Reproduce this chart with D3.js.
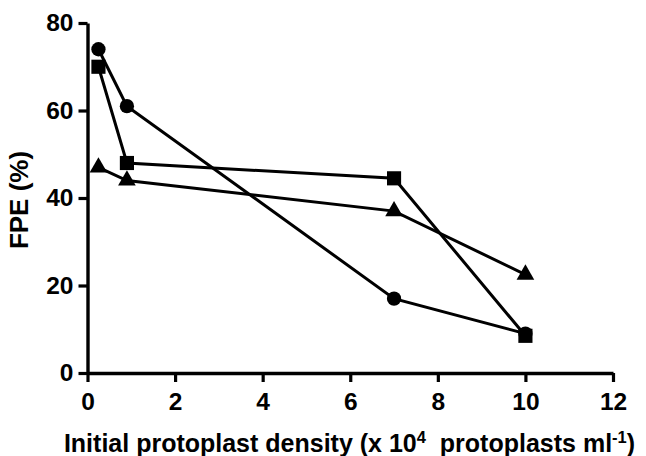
<!DOCTYPE html>
<html>
<head>
<meta charset="utf-8">
<script src="https://cdn.jsdelivr.net/npm/d3@7"></script>
<style>
  body { margin: 0; background: #fff; }
  text { font-family: "Liberation Sans", Arial, sans-serif; font-weight: bold; fill: #000; }
</style>
</head>
<body>
<script>
// densities (x 10^4 protoplasts/ml)
const density = [0.25, 0.9, 7, 10];
// FPE values per series
const circleSeries = [74, 61, 17, 9];
const squareSeries = [70, 48, 44.5, 8.5];
const triangleSeries = [47, 44, 37, 22.5];
const xTicks = [0, 2, 4, 6, 8, 10, 12];
const yTicks = [0, 20, 40, 60, 80];

const W = 646, H = 456;
const margin = { top: 23, right: 33, bottom: 83, left: 87.5 };
const width = W - margin.left - margin.right,
  height = H - margin.top - margin.bottom;

const svg = d3.select("body").append("svg")
  .attr("width", W).attr("height", H);
const g = svg.append("g")
  .attr("transform", "translate(" + margin.left + "," + margin.top + ")");

const x = d3.scaleLinear().domain([0, 12]).range([0, width]);
const y = d3.scaleLinear().domain([0, 80]).range([height, 0]);

// axes
const xAxis = g.append("g")
  .attr("transform", "translate(0," + height + ")")
  .call(d3.axisBottom(x).tickValues(xTicks).tickSize(9).tickSizeOuter(0).tickPadding(11));
const yAxis = g.append("g")
  .call(d3.axisLeft(y).tickValues(yTicks).tickSize(9).tickSizeOuter(0).tickPadding(5));

[xAxis, yAxis].forEach(a => {
  a.select(".domain").attr("stroke", "#000").attr("stroke-width", 3.4);
  a.selectAll(".tick line").attr("stroke", "#000").attr("stroke-width", 3.2);
  a.selectAll(".tick text").style("font-size", "24.5px").style("font-family", "'Liberation Sans', Arial, sans-serif").style("font-weight", "bold");
});

// lines
const line = d3.line().x((d, i) => x(density[i])).y(d => y(d));
const series = [
  { vals: circleSeries, sym: d3.symbolCircle, size: 160 },
  { vals: squareSeries, sym: d3.symbolSquare, size: 200 },
  { vals: triangleSeries, sym: d3.symbolTriangle, size: 135 }
];

series.forEach(s => {
  g.append("path").datum(s.vals)
    .attr("fill", "none").attr("stroke", "#000").attr("stroke-width", 3)
    .attr("d", line);
});
series.forEach(s => {
  g.selectAll(null).data(s.vals).enter().append("path")
    .attr("transform", (d, i) => "translate(" + x(density[i]) + "," + y(d) + ")")
    .attr("d", d3.symbol().type(s.sym).size(s.size))
    .attr("fill", "#000");
});

// axis titles
svg.append("text")
  .attr("transform", "translate(28,200) rotate(-90)")
  .attr("text-anchor", "middle")
  .style("font-size", "26px")
  .text("FPE (%)");

const xt = svg.append("text")
  .attr("x", 349.5).attr("y", 452)
  .attr("text-anchor", "middle")
  .style("font-size", "25px");
xt.append("tspan").text("Initial protoplast density (x 10");
xt.append("tspan").attr("dy", -9).style("font-size", "16.5px").text("4");
xt.append("tspan").attr("dy", 9).text("\u00a0\u00a0protoplasts ml");
xt.append("tspan").attr("dy", -9).style("font-size", "16.5px").text("-1");
xt.append("tspan").attr("dy", 9).text(")");
</script>
</body>
</html>
